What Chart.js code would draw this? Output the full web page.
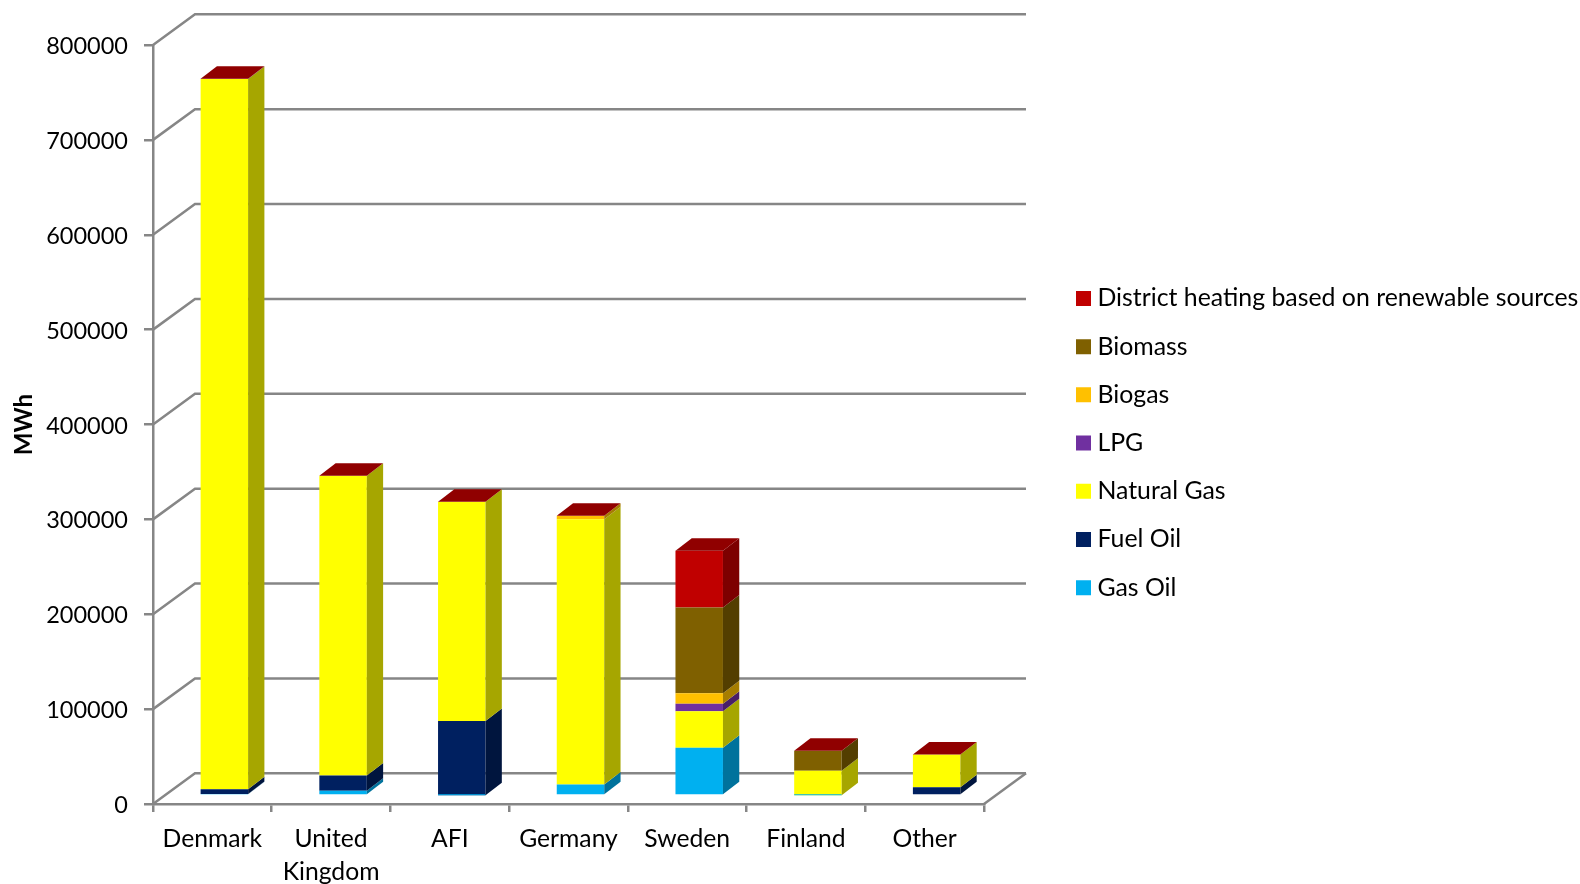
<!DOCTYPE html>
<html>
<head>
<meta charset="utf-8">
<title>Heat supply by country</title>
<script src="https://cdn.jsdelivr.net/npm/chart.js@4"></script>
<style>
    html, body { margin: 0; padding: 0; background: #fff; }
    canvas { display: block; }
</style>
</head>
<body>
<canvas id="heatChart" width="1580" height="884"></canvas>
<script>
const categories = ['Denmark', ['United', 'Kingdom'], 'AFI', 'Germany', 'Sweden', 'Finland', 'Other'];

const gasOil   = [1500, 5000, 300, 11600, 50300, 300, 0];
const fuelOil  = [5100, 16100, 78300, 0, 0, 0, 8750];
const naturalGas = [748500, 315800, 231100, 279600, 38600, 25850, 34450];
const lpg      = [300, 0, 0, 0, 7750, 0, 0];
const biogas   = [0, 0, 0, 3600, 11150, 0, 0];
const biomass  = [0, 0, 0, 0, 90350, 21080, 0];
const district = [0, 0, 0, 0, 59750, 0, 0];

const GRID = '#868686';
const FONT = 'Lato';

// fake 3D depth, in pixels
const wall = { dx: 42, dy: 30.7 };
const barOffset = { dx: 12, dy: 8.5 };
const barDepth = { dx: 16.3, dy: 12.5 };

function shade(hex, k) {
    const n = parseInt(hex.slice(1), 16);
    const r = Math.round((n >> 16) * k);
    const g = Math.round(((n >> 8) & 255) * k);
    const b = Math.round((n & 255) * k);
    return `rgb(${r},${g},${b})`;
}

function poly(ctx, pts, color) {
    ctx.fillStyle = color;
    ctx.beginPath();
    pts.forEach((p, i) => i ? ctx.lineTo(p[0], p[1]) : ctx.moveTo(p[0], p[1]));
    ctx.closePath();
    ctx.fill();
}

// back wall lines, floor, and the slanted lines coming off the value axis
const wallPlugin = {
    id: 'wall',
    beforeDatasetsDraw(chart) {
        const { ctx, chartArea, scales } = chart;
        const { left, right, bottom } = chartArea;
        ctx.save();
        ctx.strokeStyle = GRID;
        ctx.lineWidth = 2.5;
        scales.y.ticks.forEach(t => {
            const y = scales.y.getPixelForValue(t.value);
            ctx.beginPath();
            ctx.moveTo(left, y);
            ctx.lineTo(left + wall.dx, y - wall.dy);
            ctx.lineTo(right + wall.dx, y - wall.dy);
            ctx.stroke();
        });
        ctx.beginPath();
        ctx.moveTo(right, bottom);
        ctx.lineTo(right + wall.dx, bottom - wall.dy);
        ctx.stroke();
        ctx.restore();

        // the bars stand in the middle of the floor, not on its front edge
        ctx.save();
        ctx.translate(barOffset.dx, -barOffset.dy);
    },
    afterDatasetsDraw(chart) {
        const { ctx, data } = chart;
        data.datasets.forEach((ds, i) => {
            chart.getDatasetMeta(i).data.forEach(bar => {
                const x1 = bar.x + bar.width / 2;
                if (bar.base - bar.y > 0) {
                    poly(ctx, [[x1, bar.y], [x1 + barDepth.dx, bar.y - barDepth.dy],
                        [x1 + barDepth.dx, bar.base - barDepth.dy], [x1, bar.base]], shade(ds.backgroundColor, 0.65));
                }
                // the top series closes every column, even at zero height
                if (i === data.datasets.length - 1) {
                    const x0 = bar.x - bar.width / 2;
                    poly(ctx, [[x0, bar.y], [x1, bar.y], [x1 + barDepth.dx, bar.y - barDepth.dy],
                        [x0 + barDepth.dx, bar.y - barDepth.dy]], shade(ds.backgroundColor, 0.75));
                }
            });
        });
        ctx.restore();
    },
    afterLayout(chart) {
        // park the legend in the free space right of the plot
        const legend = chart.legend;
        const padding = legend.options.labels.padding;
        legend.left = 1082 - padding;
        legend.right = 1580;
        legend.top = 286 - padding;
        legend.bottom = 884;
    }
};

const makeSet = (label, data, color) => ({
    label: label,
    data: data,
    backgroundColor: color,
    borderWidth: 0,
    clip: false
});

new Chart(document.getElementById('heatChart'), {
    type: 'bar',
    data: {
        labels: categories,
        datasets: [
            makeSet('Gas Oil', gasOil, '#00B0F0'),
            makeSet('Fuel Oil', fuelOil, '#002060'),
            makeSet('Natural Gas', naturalGas, '#FFFF00'),
            makeSet('LPG', lpg, '#7030A0'),
            makeSet('Biogas', biogas, '#FFC000'),
            makeSet('Biomass', biomass, '#7F6000'),
            makeSet('District heating based on renewable sources', district, '#C00000')
        ]
    },
    plugins: [wallPlugin],
    options: {
        responsive: false,
        animation: false,
        barPercentage: 0.4,
        categoryPercentage: 1,
        layout: { padding: { left: 0, right: 596, top: 45, bottom: 0 } },
        plugins: {
            tooltip: { enabled: false },
            legend: {
                position: 'chartArea',
                align: 'start',
                reverse: true,
                labels: {
                    color: '#000',
                    font: { family: FONT, size: 24.85 },
                    boxWidth: 3,
                    boxHeight: 3,
                    padding: 23.35,
                    generateLabels(chart) {
                        // thick outline makes the swatch 15px without widening the text gap
                        const items = Chart.defaults.plugins.legend.labels.generateLabels(chart);
                        items.forEach(it => { it.strokeStyle = it.fillStyle; it.lineWidth = 12; });
                        return items;
                    }
                }
            }
        },
        scales: {
            x: {
                stacked: true,
                afterFit(scale) { scale.height = 80; },
                border: { color: GRID, width: 2.5 },
                grid: { drawOnChartArea: false, color: GRID, lineWidth: 2.5, tickLength: 8 },
                ticks: {
                    color: '#000',
                    font: { family: FONT, size: 24.7, lineHeight: 1.36 },
                    maxRotation: 0,
                    padding: 10
                }
            },
            y: {
                stacked: true,
                min: 0,
                max: 800000,
                afterFit(scale) { scale.width = 153; },
                border: { color: GRID, width: 2.5 },
                grid: { drawOnChartArea: false, color: GRID, lineWidth: 2.5, tickLength: 9 },
                ticks: {
                    stepSize: 100000,
                    color: '#000',
                    font: { family: FONT, size: 23.5 },
                    padding: 16,
                    labelOffset: 1.5,
                    callback: v => String(v)
                },
                title: {
                    display: true,
                    text: 'MWh',
                    color: '#000',
                    font: { family: FONT, size: 24, weight: 'bold' },
                    padding: { top: 10, bottom: 0 }
                }
            }
        }
    }
});
</script>
</body>
</html>
